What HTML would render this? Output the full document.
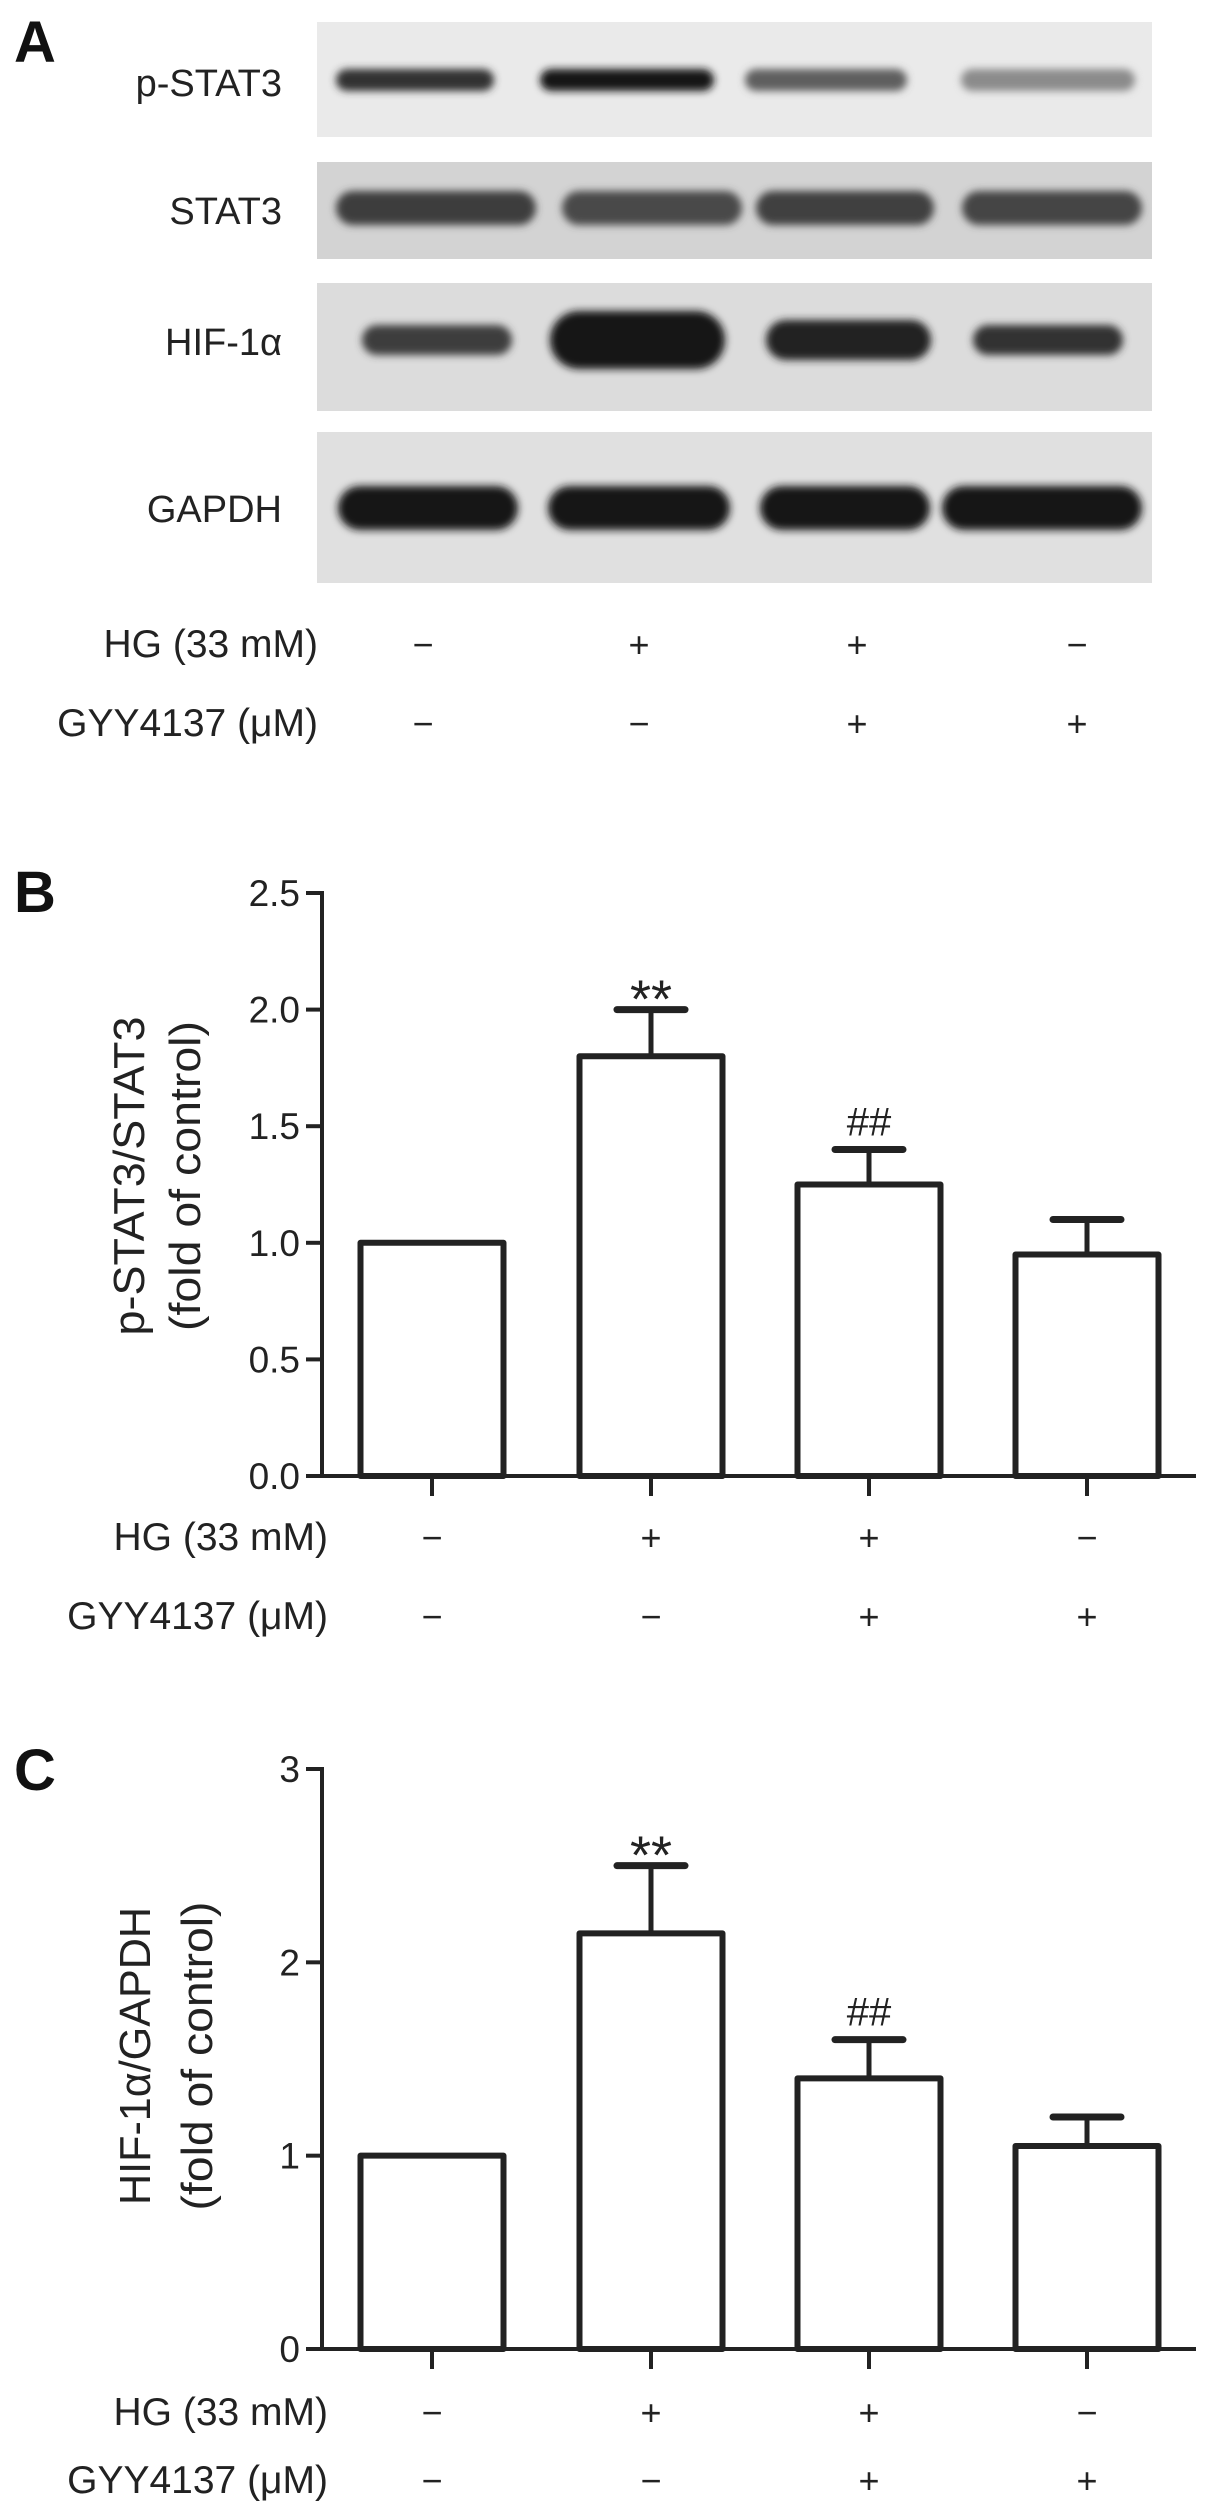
<!DOCTYPE html>
<html><head><meta charset="utf-8"><style>
html,body{margin:0;padding:0;background:#fff;}
svg{display:block;font-family:"Liberation Sans",Arial,sans-serif;}
</style></head><body>
<svg width="1205" height="2512" viewBox="0 0 1205 2512">
<defs>
<filter id="blur" x="-20%" y="-50%" width="140%" height="200%"><feGaussianBlur stdDeviation="4"/></filter>
</defs>
<g id="panelA"></g>
<g id="panelB"></g>
<g id="panelC"></g>
</svg>
<script>
const NS='http://www.w3.org/2000/svg';
function mk(parent,tag,attrs,txt){const e=document.createElementNS(NS,tag);for(const k in attrs)e.setAttribute(k,attrs[k]);if(txt!==undefined)e.textContent=txt;parent.appendChild(e);return e;}

// ---- data ----
const categories=['Control','HG','HG+GYY4137','GYY4137'];
const hgSigns=['−','+','+','−'];
const gyySigns=['−','−','+','+'];
const pstatValues=[1.0,1.8,1.25,0.95];
const pstatErrors=[1.0,2.0,1.4,1.1];
const pstatTicks=['0.0','0.5','1.0','1.5','2.0','2.5'];
const pstatMarks=['','**','##',''];
const hifValues=[1.0,2.15,1.4,1.05];
const hifErrors=[1.0,2.5,1.6,1.2];
const hifTicks=['0','1','2','3'];
const hifMarks=['','**','##',''];
const blotLabels=['p-STAT3','STAT3','HIF-1α','GAPDH'];
const pstatBand=[0.85,1.0,0.6,0.35];
const stat3Band=[0.8,0.72,0.78,0.75];
const hifBand=[0.8,1.0,0.95,0.85];
const gapdhBand=[1.0,1.0,1.0,1.0];

const laneX=[432,651,869,1087];

// ---- Panel A ----
const A=document.getElementById('panelA');
let t=mk(A,'text',{x:14,y:62,'font-size':58,'font-weight':'bold',fill:'#111'},'A');

const strips=[
 {y:22,h:115,bg:'#eaeaea',band:pstatBand,by:80,bh:22,w:[158,174,162,174],lx:[336,540,745,961]},
 {y:162,h:97,bg:'#d3d3d3',band:stat3Band,by:208,bh:34,w:[200,180,178,180],lx:[336,562,756,962]},
 {y:283,h:128,bg:'#dcdcdc',band:hifBand,by:340,bh:[30,58,40,30],w:[150,175,165,150],lx:[362,550,766,973]},
 {y:432,h:151,bg:'#e0e0e0',band:gapdhBand,by:508,bh:44,w:[180,182,170,200],lx:[338,548,760,942]}
];
const labelY=[96,224,355,522];
strips.forEach((s,i)=>{
  const g=mk(A,'g',{});
  
  
  mk(g,'rect',{x:317,y:s.y,width:835,height:s.h,fill:s.bg});
  s.band.forEach((v,j)=>{
    const bh=Array.isArray(s.bh)?s.bh[j]:s.bh;
    const c=Math.round(200-175*v);
    const b=mk(g,'rect',{x:s.lx[j],y:s.by-bh/2,width:s.w[j],height:bh,rx:bh/2,fill:`rgb(${c},${c},${c})`,filter:'url(#blur)'});
    
  });
  const l=mk(A,'text',{x:282,y:labelY[i],'font-size':38,'text-anchor':'end',fill:'#222'},blotLabels[i]);
  
});
function condRows(P,hgY,gyY,xs,rightX){
  let a=mk(P,'text',{x:rightX,y:hgY,'font-size':39,'text-anchor':'end',fill:'#222'},'HG (33 mM)');
  
  let b=mk(P,'text',{x:rightX,y:gyY,'font-size':39,'text-anchor':'end',fill:'#222'},'GYY4137 (μM)');
  
  xs.forEach((x,i)=>{
    let s1=mk(P,'text',{x:x,y:hgY,'font-size':36,'text-anchor':'middle',fill:'#222'},hgSigns[i]);
    
    let s2=mk(P,'text',{x:x,y:gyY,'font-size':36,'text-anchor':'middle',fill:'#222'},gyySigns[i]);
    
  });
}
condRows(A,657,736,[423,639,857,1077],318);

// ---- Bar chart ----
function barChart(P,o){
  const yS=v=>o.y0-(o.y0-o.yTop)*v/o.max;
  const xC=i=>laneX[i];
  let L=mk(P,'text',{x:14,y:o.letterY,'font-size':58,'font-weight':'bold',fill:'#111'},o.letter);
  
  const lg=mk(P,'g',{});
  
  mk(lg,'text',{x:0,y:0,'font-size':44,'text-anchor':'middle',fill:'#222',transform:`translate(${o.lx1},${o.lyc}) rotate(-90)`,textLength:o.len1,lengthAdjust:'spacingAndGlyphs'},o.label1);
  mk(lg,'text',{x:0,y:0,'font-size':44,'text-anchor':'middle',fill:'#222',transform:`translate(${o.lx2},${o.lyc}) rotate(-90)`,textLength:o.len2,lengthAdjust:'spacingAndGlyphs'},o.label2);
  let ya=mk(P,'line',{x1:322,y1:yS(o.max)-2,x2:322,y2:o.y0+2,stroke:'#222','stroke-width':4});
  
  o.ticks.forEach((tk,i)=>{
    const v=o.max*i/(o.ticks.length-1);
    mk(P,'line',{x1:306,y1:yS(v),x2:322,y2:yS(v),stroke:'#222','stroke-width':4});
    let tl=mk(P,'text',{x:300,y:yS(v)+13,'font-size':37,'text-anchor':'end',fill:'#222'},tk);
    
  });
  o.values.forEach((v,i)=>{
    const x=xC(i), w=143;
    const e=o.errors[i];
    if(e>v){
      let el=mk(P,'line',{x1:x,y1:yS(v),x2:x,y2:yS(e),stroke:'#222','stroke-width':5});
      
      mk(P,'line',{x1:x-34,y1:yS(e),x2:x+34,y2:yS(e),stroke:'#222','stroke-width':7,'stroke-linecap':'round'});
    }
    let r=mk(P,'rect',{x:x-w/2,y:yS(v),width:w,height:o.y0-yS(v),fill:'#fff',stroke:'#222','stroke-width':6,'stroke-linejoin':'round'});
    
    
    if(o.marks[i]){
      const star=o.marks[i]==='**';
      let m=mk(P,'text',{x:x,y:star?yS(e)+8:yS(e)-14,'font-size':star?54:40,'text-anchor':'middle',fill:'#222'},o.marks[i]);
      
      
    }
    mk(P,'line',{x1:x,y1:o.y0,x2:x,y2:o.y0+20,stroke:'#222','stroke-width':4});
  });
  let xa=mk(P,'line',{x1:307,y1:o.y0,x2:1196,y2:o.y0,stroke:'#222','stroke-width':4});
  
  condRows(P,o.hgY,o.gyY,laneX,328);
}
barChart(document.getElementById('panelB'),{letter:'B',letterY:912,y0:1476,yTop:893,max:2.5,values:pstatValues,errors:pstatErrors,ticks:pstatTicks,marks:pstatMarks,
  label1:'p-STAT3/STAT3',label2:'(fold of control)',lx1:144,lx2:200,lyc:1176,len1:319,len2:310,hgY:1550,gyY:1629});
barChart(document.getElementById('panelC'),{letter:'C',letterY:1790,y0:2349,yTop:1769,max:3,values:hifValues,errors:hifErrors,ticks:hifTicks,marks:hifMarks,
  label1:'HIF-1α/GAPDH',label2:'(fold of control)',lx1:150,lx2:212,lyc:2056,len1:298,len2:309,hgY:2425,gyY:2493});
</script>
</body></html>
